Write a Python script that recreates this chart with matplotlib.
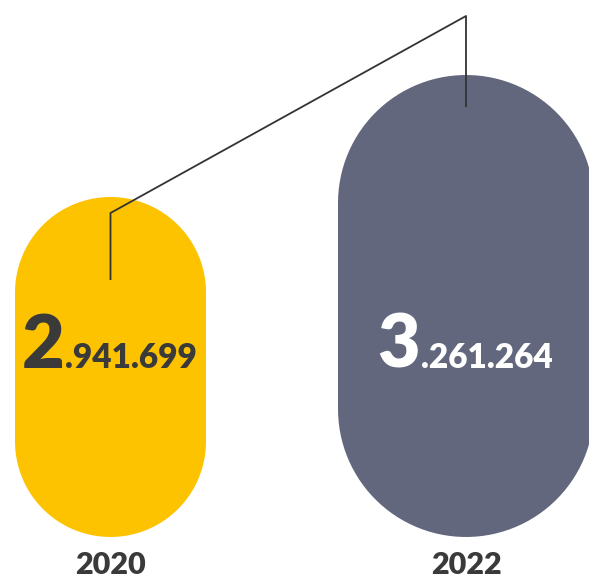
import numpy as np
import matplotlib.pyplot as plt
from matplotlib.patches import Polygon

# data
years = ['2020', '2022']
values = [2941699, 3261264]
colors = ['#FDC300', '#62677E']
text_colors = ['#3a3a3a', '#ffffff']

# capsule layout in pixel units (x centre, width, top) -- bottom shared
centers = [110.5, 466]
widths = [191, 256]
tops = [197, 75]
bottom = 537

fig = plt.figure(figsize=(5.89, 5.77), dpi=100)
ax = fig.add_axes([0, 0, 1, 1])
ax.set_xlim(0, 589)
ax.set_ylim(577, 0)
ax.axis('off')


def capsule(cx, w, top, bot):
    r = w / 2
    t = np.linspace(np.pi, 2 * np.pi, 60)
    upper = np.c_[cx + r * np.cos(t), top + r + r * np.sin(t)]
    t2 = np.linspace(0, np.pi, 60)
    lower = np.c_[cx + r * np.cos(t2), bot - r + r * np.sin(t2)]
    return np.vstack([upper, lower])


for cx, w, top, col in zip(centers, widths, tops, colors):
    ax.add_patch(Polygon(capsule(cx, w, top, bottom), closed=True,
                         facecolor=col, edgecolor='none'))

# connector line
ax.plot([centers[0], centers[0], centers[1], centers[1]],
        [280, 213, 16, 107], color='#333333', lw=1.3, solid_capstyle='butt',
        zorder=5)


def split_value(v):
    s = f"{v:,}".replace(',', '.')
    return s[0], s[1:]


fam = ['Lato', 'DejaVu Sans']
for cx, v, tc in zip(centers, values, text_colors):
    big, small = split_value(v)
    jx = cx - 46  # junction between big digit and the rest
    ax.text(jx, 368, big, ha='right', va='baseline', fontsize=53,
            fontweight='heavy', color=tc, family=fam)
    ax.text(jx + 1, 368, small, ha='left', va='baseline', fontsize=24,
            fontweight='heavy', color=tc, family=fam)

for cx, y in zip(centers, years):
    ax.text(cx, 574, y, ha='center', va='baseline', fontsize=22,
            fontweight='heavy', color='#3a3a3a', family=fam)

fig.savefig('out.png', dpi=100)
